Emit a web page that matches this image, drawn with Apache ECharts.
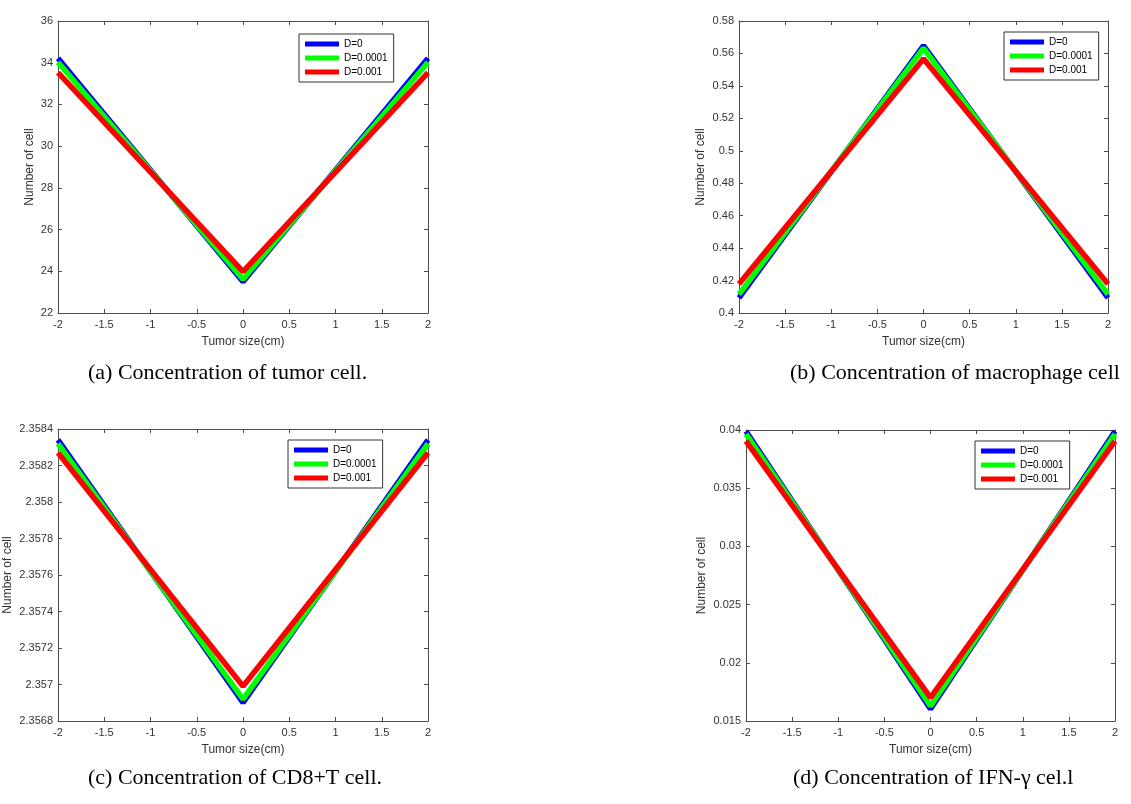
<!DOCTYPE html>
<html>
<head>
<meta charset="utf-8">
<script src="https://cdn.jsdelivr.net/npm/echarts@6/dist/echarts.min.js"></script>
<style>
  html, body { margin: 0; padding: 0; background: #fff; }
  #main { width: 1131px; height: 804px; }
</style>
</head>
<body>
<div id="main"></div>
<script>
var chartDom = document.getElementById('main');
var myChart = echarts.init(chartDom);
var option;

// tumor size positions (cm)
const xPts = [-2, 0, 2];
const seriesNames = ['D=0', 'D=0.0001', 'D=0.001'];
const lineColors = ['#0000ff', '#00ff00', '#ff0000'];

// (a) tumor cell
const tumorD0 = [34.21, 23.5, 34.21];
const tumorD1 = [34.02, 23.62, 34.02];
const tumorD2 = [33.52, 23.98, 33.52];
// (b) macrophage cell
const macroD0 = [0.4094, 0.5648, 0.4094];
const macroD1 = [0.4115, 0.5632, 0.4115];
const macroD2 = [0.4179, 0.5568, 0.4179];
// (c) CD8+T cell
const cd8D0 = [2.35834, 2.3569, 2.35834];
const cd8D1 = [2.35832, 2.35692, 2.35832];
const cd8D2 = [2.35827, 2.35699, 2.35827];
// (d) IFN-gamma
const ifnD0 = [0.0399, 0.01603, 0.0399];
const ifnD1 = [0.03966, 0.0163, 0.03966];
const ifnD2 = [0.03905, 0.017, 0.03905];

const captions = [
  '(a) Concentration of tumor cell.',
  '(b) Concentration of macrophage cell',
  '(c) Concentration of CD8+T cell.',
  '(d) Concentration of IFN-\u03b3 cel.l'
];

// panel layout (pixels)
const panels = [
  { grid: { left: 58, top: 21, width: 370, height: 292 }, y: [22, 36, 2], data: [tumorD0, tumorD1, tumorD2], nameGap: 22, legend: [299, 34], caption: [88, 362] },
  { grid: { left: 739, top: 21, width: 369, height: 292 }, y: [0.4, 0.58, 0.02], data: [macroD0, macroD1, macroD2], nameGap: 32, legend: [1004, 32], caption: [790, 362] },
  { grid: { left: 58, top: 429, width: 370, height: 292 }, y: [2.3568, 2.3584, 0.0002], data: [cd8D0, cd8D1, cd8D2], nameGap: 44, legend: [288, 440], caption: [88, 767] },
  { grid: { left: 746, top: 430, width: 369, height: 291 }, y: [0.015, 0.04, 0.005], data: [ifnD0, ifnD1, ifnD2], nameGap: 38, legend: [975, 441], caption: [793, 767] }
];

const axisColor = '#4d4d4d';
const font = 'Liberation Sans';

var grids = [], xAxes = [], yAxes = [], series = [], legends = [], titles = [];

panels.forEach(function (p, i) {
  grids.push(p.grid);
  // bottom + top x axes (box like MATLAB)
  ['bottom', 'top'].forEach(function (pos, k) {
    xAxes.push({
      type: 'value', gridIndex: i, position: pos,
      min: -2, max: 2, interval: 0.5,
      name: k === 0 ? 'Tumor size(cm)' : '',
      nameLocation: 'middle', nameGap: 23,
      nameTextStyle: { fontFamily: font, fontSize: 12, color: '#333' },
      axisLine: { show: true, onZero: false, lineStyle: { color: axisColor, width: 1 } },
      axisTick: { show: true, inside: true, length: 4, lineStyle: { color: axisColor } },
      axisLabel: { show: k === 0, margin: 6, fontFamily: font, fontSize: 11, color: '#333' },
      splitLine: { show: false }
    });
  });
  ['left', 'right'].forEach(function (pos, k) {
    yAxes.push({
      type: 'value', gridIndex: i, position: pos,
      min: p.y[0], max: p.y[1], interval: p.y[2],
      name: k === 0 ? 'Number of cell' : '',
      nameLocation: 'middle', nameGap: p.nameGap,
      nameTextStyle: { fontFamily: font, fontSize: 12, color: '#333' },
      axisLine: { show: true, onZero: false, lineStyle: { color: axisColor, width: 1 } },
      axisTick: { show: true, inside: true, length: 4, lineStyle: { color: axisColor } },
      axisLabel: { show: k === 0, margin: 5, fontFamily: font, fontSize: 11, color: '#333' },
      splitLine: { show: false }
    });
  });
  p.data.forEach(function (vals, j) {
    series.push({
      name: seriesNames[j],
      type: 'line',
      xAxisIndex: i * 2,
      yAxisIndex: i * 2,
      data: xPts.map(function (x, n) { return [x, vals[n]]; }),
      showSymbol: false,
      symbol: 'none',
      clip: false,
      color: lineColors[j],
      lineStyle: { color: lineColors[j], width: 5.5 },
      animation: false
    });
  });
  legends.push({
    left: p.legend[0], top: p.legend[1],
    orient: 'vertical',
    data: seriesNames,
    icon: 'rect',
    itemWidth: 34, itemHeight: 5, itemGap: 0,
    padding: [3, 6, 3, 6],
    borderColor: '#333', borderWidth: 1, borderRadius: 0,
    backgroundColor: '#fff',
    textStyle: { fontFamily: font, fontSize: 10, color: '#000', lineHeight: 14 },
    selectedMode: false
  });
  titles.push({
    text: captions[i],
    left: p.caption[0], top: p.caption[1],
    padding: 0,
    textStyle: { fontFamily: 'Liberation Serif', fontSize: 22, fontWeight: 'normal', color: '#000' }
  });
});

option = {
  backgroundColor: '#fff',
  animation: false,
  title: titles,
  legend: legends,
  grid: grids,
  xAxis: xAxes,
  yAxis: yAxes,
  series: series
};

option && myChart.setOption(option);
</script>
</body>
</html>
